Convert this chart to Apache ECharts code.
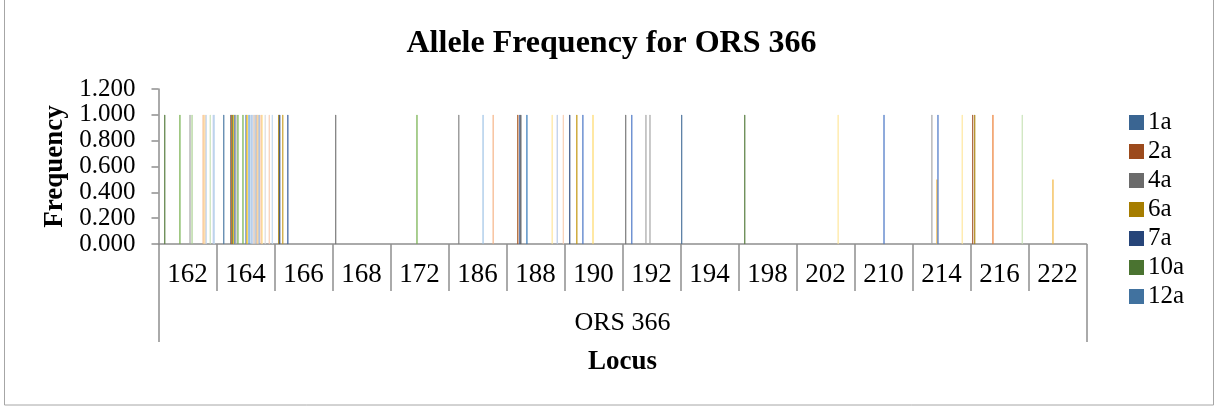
<!DOCTYPE html>
<html>
<head>
<meta charset="utf-8">
<script src="https://cdn.jsdelivr.net/npm/echarts@6/dist/echarts.min.js"></script>
<style>
	html, body { margin: 0; padding: 0; background: #fff; }
	#chart { width: 1223px; height: 414px; }
</style>
</head>
<body>
<div id="chart"></div>
<script>
// alleles (x categories)
const categories = ['162', '164', '166', '168', '172', '186', '188', '190', '192', '194', '198', '202', '210', '214', '216', '222'];

// samples, in series order (only the first 7 fit in the legend)
const sampleNames = ['1a', '2a', '4a', '6a', '7a', '10a', '12a', '13a', '14a', '15a', '16a', '17a', '18a', '19a',
	'20a', '21a', '22a', '23a', '24a', '25a', '26a', '27a', '28a', '29a', '30a', '31a', '32a', '33a',
	'34a', '35a', '36a', '37a', '38a', '39a', '40a', '41a', '42a', '43a', '44a', '45a', '46a', '47a',
	'48a', '49a', '50a', '51a', '52a', '53a', '54a', '55a', '56a', '57a', '58a', '59a', '60a', '61a'];

// samples (index in sampleNames) with frequency 1.000 at each allele
const full162 = [5, 20, 30, 32, 43, 44, 45, 46, 50, 53, 54];
const full164 = [6, 13, 14, 15, 16, 17, 18, 20, 25, 28, 29, 31, 33, 34, 35, 36, 37, 38, 39, 40, 41, 43, 44, 47, 51, 54];
const full166 = [3, 4, 7, 12];
const full168 = [2];
const full172 = [25];
const full186 = [9, 33, 43];
const full188 = [10, 12, 13, 19, 44, 49, 55];
const full190 = [4, 11, 17, 27];
const full192 = [2, 8, 22, 26];
const full194 = [0];
const full198 = [5];
const full202 = [40];
const full210 = [28];
const full214 = [18, 24, 48];
const full216 = [1, 3, 21, 50];
const full222 = [];
// samples with frequency 0.500
const half214 = [23];
const half222 = [23];

const yTicks = [0, 0.2, 0.4, 0.6, 0.8, 1.0, 1.2];

// series colours
const palette = ['#3A6592', '#9C4A1C', '#6B6B6B', '#A67D00', '#274579', '#4A7330', '#41729F', '#C99A1E',
	'#4472C4', '#7F7F7F', '#9E480E', '#BF9000', '#2F5597', '#595959', '#C55A11', '#548235',
	'#FFC000', '#4472C4', '#A5A5A5', '#2E75B6', '#70AD47', '#ED7D31', '#A5A5A5', '#F2B43C',
	'#4472C4', '#70AD47', '#A5A5A5', '#FFD966', '#4472C4', '#FFC000', '#A5A5A5', '#5B9BD5',
	'#A9D18E', '#9DC3E6', '#B4C7E7', '#BDD7EE', '#F8CBAD', '#C9C9C9', '#9DC3E6', '#F4B183',
	'#FFE699', '#8FAADC', '#BDD7EE', '#F4B183', '#FFE699', '#F8CBAD', '#BDD7EE', '#DBDBDB',
	'#FFE699', '#B4C7E7', '#C5E0B4', '#F8CBAD', '#DAE3F3', '#B4C7E7', '#BDD7EE', '#F8CBAD'];

const fullByAllele = [full162, full164, full166, full168, full172, full186, full188, full190,
	full192, full194, full198, full202, full210, full214, full216, full222];
const halfByAllele = { '214': half214, '222': half222 };

const serif = 'Liberation Serif';
const axisGray = '#8E8E8E';

let series = sampleNames.map(function(name, i){
	let values = categories.map(function(c, k){
		if (fullByAllele[k].indexOf(i) >= 0) return 1;
		if (halfByAllele[c] && halfByAllele[c].indexOf(i) >= 0) return 0.5;
		return null;
	});
	return {
		name: name,
		type: 'bar',
		data: values,
		barGap: '0%',
		barCategoryGap: '2.6%',
		// thin bars: a stroke of the same colour keeps them from washing out
		itemStyle: { color: palette[i], borderColor: palette[i], borderWidth: 0.5 },
		animation: false
	};
});

let chart = echarts.init(document.getElementById('chart'));
chart.setOption({
	animation: false,
	backgroundColor: '#fff',
	title: {
		text: 'Allele Frequency for ORS 366',
		left: 'center',
		top: 28,
		padding: 0,
		textStyle: { fontFamily: serif, fontSize: 32, fontWeight: 'bold', color: '#000' }
	},
	legend: {
		orient: 'vertical',
		left: 1129,
		top: 110,
		padding: 0,
		itemWidth: 13,
		itemHeight: 13,
		itemGap: 4,
		icon: 'rect',
		data: sampleNames.slice(0, 7),
		textStyle: { fontFamily: serif, fontSize: 25, lineHeight: 25, color: '#000' }
	},
	grid: { left: 158.5, right: 136.5, top: 89, bottom: 170 },
	xAxis: [{
		type: 'category',
		data: categories,
		axisLine: { show: true, lineStyle: { color: axisGray, width: 1.5 } },
		axisTick: { show: true, alignWithLabel: false, interval: 0, length: 47, lineStyle: { color: axisGray, width: 1.5 } },
		axisLabel: { interval: 0, margin: 17, fontFamily: serif, fontSize: 27, color: '#000' }
	}, {
		type: 'category',
		data: ['ORS 366'],
		position: 'bottom',
		axisLine: { show: false },
		axisTick: { show: true, length: 98, lineStyle: { color: axisGray, width: 1.5 } },
		axisLabel: { margin: 66, fontFamily: serif, fontSize: 26, color: '#000' },
		name: 'Locus',
		nameLocation: 'middle',
		nameGap: 105,
		nameTextStyle: { fontFamily: serif, fontSize: 27, fontWeight: 'bold', color: '#000' }
	}],
	yAxis: {
		type: 'value',
		min: yTicks[0],
		max: yTicks[yTicks.length - 1],
		interval: 0.2,
		name: 'Frequency',
		nameLocation: 'middle',
		nameGap: 90,
		nameTextStyle: { fontFamily: serif, fontSize: 27, fontWeight: 'bold', color: '#000' },
		splitLine: { show: false },
		axisLine: { show: true, lineStyle: { color: axisGray, width: 1.5 } },
		axisTick: { show: true, length: 7, lineStyle: { color: axisGray, width: 1.5 } },
		axisLabel: {
			margin: 23,
			fontFamily: serif,
			fontSize: 25,
			color: '#000',
			formatter: function(v){ return v.toFixed(3); }
		}
	},
	graphic: [{
		type: 'rect',
		shape: { x: 4.5, y: -2, width: 1209, height: 407 },
		style: { fill: 'none', stroke: '#A6A6A6', lineWidth: 1 },
		silent: true
	}],
	series: series
});
</script>
</body>
</html>
